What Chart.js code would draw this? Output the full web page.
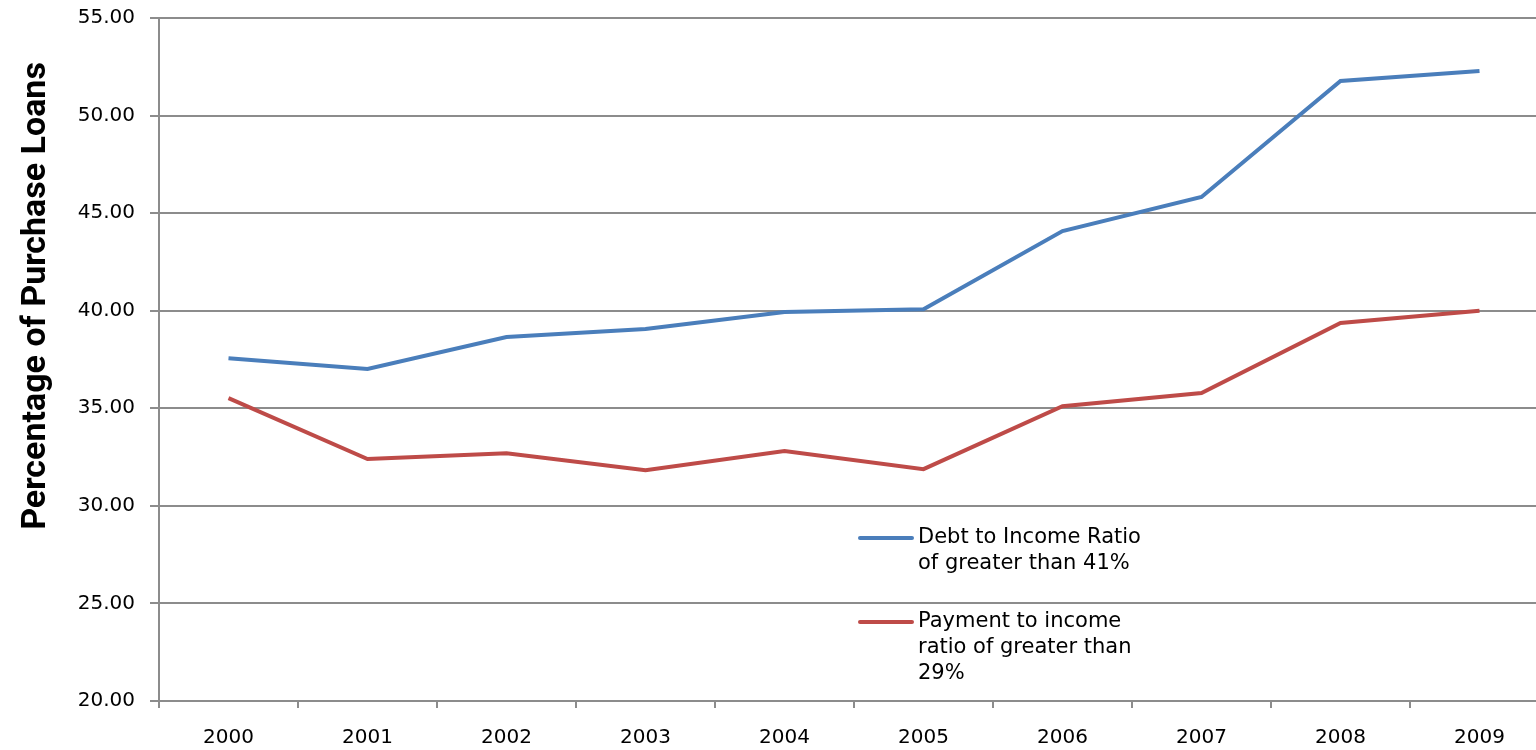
<!doctype HTML>
<html lang="en">
<head>
    <meta charset=utf-8>
    <title>Purchase Loans</title>
    <style type="text/css">
        * {
            padding: 0;
            margin: 0;
        }

        body {
            overflow: hidden;
            background: #fff;
        }

        div {
            width: 1550px;
            height: 750px;
        }
    </style>
    <script src="https://cdn.jsdelivr.net/npm/chart.js"></script>
</head>
<body>
    <div>
        <canvas id="loansChart"></canvas>
    </div>

    <script type="text/javascript">
        const years = ['2000', '2001', '2002', '2003', '2004', '2005', '2006', '2007', '2008', '2009'];
        const debtToIncome = [37.57, 37.01, 38.65, 39.06, 39.93, 40.08, 44.08, 45.83, 51.77, 52.28];
        const paymentToIncome = [35.52, 32.40, 32.70, 31.83, 32.81, 31.88, 35.11, 35.78, 39.37, 40.00];
        const seriesNames = [
            ['Debt to Income Ratio', 'of greater than 41%'],
            ['Payment to income', 'ratio of greater than', '29%']
        ];
        const yTitle = 'Percentage of Purchase Loans';

        const tickFont = { family: '"DejaVu Sans"', size: 20 };
        const gridColor = '#8c8c8c';

        // legend and axis title drawn by hand, placed like the original
        const extras = {
            id: 'extras',
            afterDraw(chart) {
                const ctx = chart.ctx;
                const tops = [538, 622];
                ctx.save();
                ctx.font = '21px "DejaVu Sans"';
                ctx.textBaseline = 'middle';
                ctx.fillStyle = '#000';
                chart.data.datasets.forEach((ds, i) => {
                    const y = tops[i];
                    ctx.strokeStyle = ds.borderColor;
                    ctx.lineWidth = 4;
                    ctx.lineCap = 'round';
                    ctx.beginPath();
                    ctx.moveTo(860, y);
                    ctx.lineTo(912, y);
                    ctx.stroke();
                    ds.label.forEach((line, j) => {
                        ctx.fillText(line, 918, y + j * 26);
                    });
                });
                ctx.translate(36, 296);
                ctx.rotate(-Math.PI / 2);
                ctx.textAlign = 'center';
                ctx.font = 'bold 34px Roboto';
                ctx.fillText(yTitle, 0, 0);
                ctx.restore();
            }
        };

        const data = {
            labels: years,
            datasets: [{
                label: seriesNames[0],
                data: debtToIncome,
                borderColor: '#4a7ebb',
                borderWidth: 4,
                pointRadius: 0,
                tension: 0
            }, {
                label: seriesNames[1],
                data: paymentToIncome,
                borderColor: '#be4b48',
                borderWidth: 4,
                pointRadius: 0,
                tension: 0
            }]
        };

        const config = {
            type: 'line',
            data,
            plugins: [extras],
            options: {
                responsive: false,
                animation: false,
                layout: { padding: { top: 18, right: 1, left: 0, bottom: 0 } },
                plugins: {
                    legend: { display: false },
                    tooltip: { enabled: false }
                },
                scales: {
                    x: {
                        offset: true,
                        grid: {
                            offset: true,
                            drawOnChartArea: false,
                            drawTicks: true,
                            tickLength: 7,
                            color: gridColor,
                            lineWidth: 2
                        },
                        border: { color: gridColor, width: 2 },
                        ticks: { color: '#000', font: tickFont, padding: 18 },
                        afterFit(scale) {
                            scale.height = 49;
                            scale.paddingLeft = 0;
                            scale.paddingRight = 0;
                        }
                    },
                    y: {
                        min: 20,
                        max: 55,
                        grid: { color: gridColor, lineWidth: 2, tickLength: 9 },
                        border: { color: gridColor, width: 2 },
                        ticks: {
                            stepSize: 5,
                            color: '#000',
                            font: tickFont,
                            padding: 15,
                            callback: v => v.toFixed(2)
                        },
                        afterFit(scale) {
                            scale.width = 159;
                            scale.paddingTop = 0;
                            scale.paddingBottom = 0;
                        }
                    }
                }
            }
        };

        const canvas = document.getElementById('loansChart');
        canvas.width = 1550;
        canvas.height = 750;
        const chart = new Chart(canvas, config);
    </script>
</body>
</html>
